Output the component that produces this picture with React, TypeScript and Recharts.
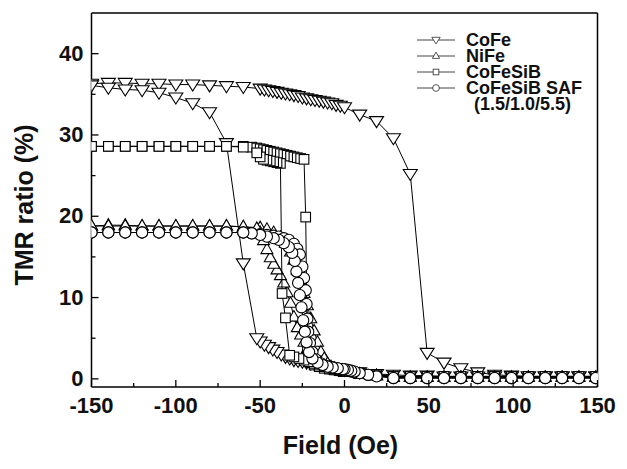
import React from 'react';
import { ScatterChart, Scatter, XAxis, YAxis, ReferenceLine } from 'recharts';

const FONT = '"Liberation Sans", Arial, Helvetica, sans-serif';

// ---- CoFe (inverted triangles) ----
const coFeUpField = [-150,-140,-130,-120,-110,-100,-90,-80,-70,-60,-50,-47.5,-45,-42.5,-40,-37.5,-35,-32.5,-30,-27.5,-25,-22.5,-20,-17.5,-15,-12.5,-10,-7.5,-5,-2.5,0,9,19,29,39,49,59,69,79,89,99,109,119,129,139,149];
const coFeUpTmr = [36.3,36.4,36.4,36.3,36.3,36.2,36.2,36.1,36.0,35.9,35.7,35.6,35.5,35.4,35.3,35.2,35.1,35.0,34.9,34.8,34.6,34.5,34.4,34.3,34.2,34.1,34.0,33.9,33.7,33.6,33.4,32.5,31.7,29.6,25.2,3.2,2.0,1.3,0.8,0.5,0.4,0.3,0.3,0.3,0.3,0.3];
const coFeDownField = [149,139,129,119,109,99,89,79,69,59,49,39,29,19,9,0,-2.5,-5,-7.5,-10,-12.5,-15,-17.5,-20,-22.5,-25,-27.5,-30,-32.5,-35,-37.5,-40,-42.5,-45,-47.5,-50,-52,-60,-70,-80,-90,-100,-110,-120,-130,-140,-150];
const coFeDownTmr = [0.3,0.3,0.3,0.3,0.3,0.3,0.3,0.3,0.3,0.3,0.4,0.4,0.5,0.6,0.8,1.1,1.2,1.3,1.4,1.5,1.6,1.7,1.8,1.9,2.0,2.1,2.2,2.3,2.5,2.7,3.0,3.3,3.6,3.9,4.2,4.6,5.0,14.2,29.0,32.8,33.9,34.6,35.2,35.5,35.6,35.8,36.1];

// ---- NiFe (triangles) ----
const niFeUpField = [-150,-140,-130,-120,-110,-100,-90,-80,-70,-60,-50,-46,-42,-38,-35,-32,-30,-28,-26,-24,-22,-20,-18,-16,-14,-12,-10,-8,-6,-4,-2,0,9,19,29,39,49,59,69,79,89,99,109,119,129,139,149];
const niFeUpTmr = [18.8,18.9,18.9,18.8,18.8,18.8,18.8,18.8,18.8,18.7,18.6,18.4,18.0,17.4,16.7,15.6,14.6,13.4,12.0,10.5,9.0,7.4,5.9,4.5,3.3,2.5,1.9,1.5,1.3,1.1,1.0,0.9,0.6,0.4,0.2,0.2,0.2,0.2,0.2,0.2,0.2,0.2,0.2,0.2,0.2,0.2,0.2];
const niFeDownField = [149,139,129,119,109,99,89,79,69,59,49,39,29,19,9,0,-3,-6,-9,-12,-15,-18,-20,-22,-24,-26,-28,-30,-32,-34,-36,-38,-40,-42,-44,-46,-48,-50,-52,-60,-70,-80,-90,-100,-110,-120,-130,-140,-150];
const niFeDownTmr = [0.2,0.2,0.2,0.2,0.2,0.2,0.2,0.2,0.2,0.2,0.2,0.2,0.2,0.4,0.6,0.8,1.0,1.1,1.3,1.6,2.0,2.5,3.0,3.7,4.5,5.4,6.3,7.6,9.3,10.6,11.8,12.7,13.4,14.1,14.9,15.9,17.0,18.0,18.5,18.7,18.8,18.8,18.8,18.8,18.8,18.8,18.8,18.8,18.8];

// ---- CoFeSiB (squares) ----
const siBUpField = [-150,-140,-130,-120,-110,-100,-90,-80,-70,-60,-55,-52,-50,-48,-46,-44,-42,-40,-38,-36,-34,-32,-30,-28,-26,-24,-23,-22,-20,-18,-15,-12,-9,-6,-3,0,9,19,29,39,49,59,69,79,89,99,109,119,129,139,149];
const siBUpTmr = [28.6,28.6,28.6,28.6,28.6,28.6,28.6,28.6,28.6,28.6,28.5,28.4,28.3,28.2,28.1,28.0,27.9,27.8,27.7,27.6,27.5,27.4,27.3,27.2,27.1,27.0,19.9,3.5,2.0,1.7,1.5,1.3,1.2,1.1,1.0,0.9,0.7,0.5,0.3,0.3,0.3,0.3,0.3,0.3,0.3,0.3,0.3,0.3,0.3,0.3,0.3];
const siBDownField = [149,139,129,119,109,99,89,79,69,59,49,39,29,19,9,0,-3,-6,-9,-12,-15,-18,-21,-24,-27,-30,-32.5,-35,-37,-38,-40,-42,-44,-46,-48,-50,-52,-60,-70,-80,-90,-100,-110,-120,-130,-140,-150];
const siBDownTmr = [0.3,0.3,0.3,0.3,0.3,0.3,0.3,0.3,0.3,0.3,0.3,0.3,0.3,0.5,0.7,1.0,1.1,1.2,1.3,1.5,1.7,1.9,2.1,2.3,2.5,2.7,2.9,7.5,10.5,26.5,26.6,26.7,26.8,26.9,27.0,27.3,27.8,28.5,28.6,28.6,28.6,28.6,28.6,28.6,28.6,28.6,28.6];

// ---- CoFeSiB SAF (circles) ----
const safUpField = [-150,-140,-130,-120,-110,-100,-90,-80,-70,-60,-55,-50,-46,-42,-39,-36,-33,-30,-28,-26.5,-25,-24,-23,-22.5,-22,-21.5,-20.5,-19,-17,-14,-11,-8,-5,-2,0,2,4,6,9,14,19,29,39,49,59,69,79,89,99,109,119,129,139,149];
const safUpTmr = [18.0,18.0,18.0,18.0,18.0,18.0,18.0,18.0,18.0,18.0,17.9,17.8,17.7,17.6,17.5,17.3,17.1,16.6,16.0,15.3,13.8,12.4,10.9,9.2,7.4,5.8,4.4,3.3,2.4,1.9,1.6,1.4,1.3,1.2,1.1,1.0,0.9,0.8,0.7,0.5,0.4,0.1,0.1,0.1,0.1,0.1,0.1,0.1,0.1,0.1,0.1,0.1,0.1,0.1];
const safDownField = [149,139,129,119,109,99,89,79,69,59,49,39,29,19,14,9,6,4,2,0,-1,-4,-7,-10,-13,-16,-19,-21,-22.5,-23.5,-24.5,-25.5,-26.5,-27.5,-28.5,-29.5,-31,-33,-36,-39,-42,-46,-50,-55,-60,-70,-80,-90,-100,-110,-120,-130,-140,-150];
const safDownTmr = [0.1,0.1,0.1,0.1,0.1,0.1,0.1,0.1,0.1,0.1,0.1,0.1,0.1,0.3,0.5,0.7,0.9,1.0,1.1,1.2,1.2,1.3,1.4,1.5,1.7,2.0,2.5,3.3,4.5,5.8,7.2,8.8,10.3,11.8,13.2,14.5,15.5,16.2,16.7,17.1,17.3,17.5,17.7,17.9,18.0,18.0,18.0,18.0,18.0,18.0,18.0,18.0,18.0,18.0];

// ---- axes ----
const xTicks = [-150,-125,-100,-75,-50,-25,0,25,50,75,100,125,150];
const yTicks = [0,5,10,15,20,25,30,35,40];
const seriesNames = ['CoFe', 'NiFe', 'CoFeSiB', 'CoFeSiB SAF'];
const legendSubLabel = '(1.5/1.0/5.5)';

const zip = (f: number[], t: number[]) => {
  const n = Math.min(f.length, t.length);
  const out: { x: number; y: number }[] = [];
  for (let i = 0; i < n; i++) out.push({ x: f[i], y: t[i] });
  return out;
};

const coFeData = [...zip(coFeUpField, coFeUpTmr), ...zip(coFeDownField, coFeDownTmr)];
const niFeData = [...zip(niFeUpField, niFeUpTmr), ...zip(niFeDownField, niFeDownTmr)];
const siBData = [...zip(siBUpField, siBUpTmr), ...zip(siBDownField, siBDownTmr)];
const safData = [...zip(safUpField, safUpTmr), ...zip(safDownField, safDownTmr)];

const SW = 1.1;

const markerFor = (kind: string, cx: number, cy: number, s: number) => {
  if (kind === 'down') {
    const w = 7 * s;
    return <polygon points={`${cx - w},${cy - 4.5 * s} ${cx + w},${cy - 4.5 * s} ${cx},${cy + 6.5 * s}`} fill="#fff" stroke="#000" strokeWidth={SW} />;
  }
  if (kind === 'up') {
    const w = 6 * s;
    return <polygon points={`${cx - w},${cy + 4 * s} ${cx + w},${cy + 4 * s} ${cx},${cy - 6.5 * s}`} fill="#fff" stroke="#000" strokeWidth={SW} />;
  }
  if (kind === 'square') {
    const h = 4.8 * s;
    return <rect x={cx - h} y={cy - h} width={2 * h} height={2 * h} fill="#fff" stroke="#000" strokeWidth={SW} />;
  }
  return <circle cx={cx} cy={cy} r={5.6 * s} fill="#fff" stroke="#000" strokeWidth={SW} />;
};

const kinds = ['down', 'up', 'square', 'circle'];

const makeShape = (kind: string) => (props: any) => {
  const { cx, cy } = props;
  if (cx == null || cy == null) return <g />;
  return markerFor(kind, cx, cy, 1);
};

const XTick = (props: any) => {
  const { x, y, payload } = props;
  const v = payload.value;
  const major = v % 50 === 0;
  return (
    <g>
      <line x1={x} x2={x} y1={y} y2={y - (major ? 7 : 4)} stroke="#000" strokeWidth={1.3} />
      {major && (
        <text x={x} y={y + 26} textAnchor="middle" fontFamily={FONT} fontWeight="bold" fontSize={22} fill="#111">
          {v}
        </text>
      )}
    </g>
  );
};

const YTick = (props: any) => {
  const { x, y, payload } = props;
  const v = payload.value;
  const major = v % 10 === 0;
  return (
    <g>
      <line x1={x} x2={x + (major ? 7 : 4)} y1={y} y2={y} stroke="#000" strokeWidth={1.3} />
      {major && (
        <text x={x - 8} y={y + 7} textAnchor="end" fontFamily={FONT} fontWeight="bold" fontSize={22} fill="#111">
          {v}
        </text>
      )}
    </g>
  );
};

const XTitle = (props: any) => {
  const vb = props.viewBox || {};
  const cx = vb.x + vb.width / 2 - 4;
  return (
    <text x={cx} y={446} textAnchor="middle" fontFamily={FONT} fontWeight="bold" fontSize={25} fill="#111">
      Field (Oe)
    </text>
  );
};

const YTitle = (props: any) => {
  const vb = props.viewBox || {};
  const cy = vb.y + vb.height / 2 + 5;
  const cx = 25;
  return (
    <text x={cx} y={cy} transform={`rotate(-90, ${cx}, ${cy})`} textAnchor="middle" fontFamily={FONT} fontWeight="bold" fontSize={25} fill="#111">
      TMR ratio (%)
    </text>
  );
};

const LegendBox = () => (
  <div style={{ position: 'absolute', left: 409, top: 24, fontFamily: FONT, fontWeight: 'bold', fontSize: 18, color: '#111' }}>
    {seriesNames.map((name, i) => (
      <div key={name} style={{ height: 16, display: 'flex', alignItems: 'center', whiteSpace: 'nowrap' }}>
        <svg width={38} height={16} style={{ display: 'block' }}>
          <line x1={0} x2={38} y1={8} y2={8} stroke="#444" strokeWidth={1} />
          <g transform="translate(19,8) scale(0.6) translate(-19,-8)">{markerFor(kinds[i], 19, 8, 1)}</g>
        </svg>
        <span style={{ marginLeft: 11, lineHeight: '16px' }}>{name}</span>
      </div>
    ))}
    <div style={{ height: 16, lineHeight: '16px', marginLeft: 57, whiteSpace: 'nowrap' }}>{legendSubLabel}</div>
  </div>
);

export default function App() {
  const W = 619;
  const H = 461;
  return (
    <div style={{ position: 'relative', width: W, height: H }}>
      <ScatterChart width={W} height={H} margin={{ top: 5, right: 29.5, bottom: 12, left: 13.5 }}>
        <XAxis
          type="number"
          dataKey="x"
          domain={[-150, 150]}
          ticks={xTicks}
          interval={0}
          allowDataOverflow
          tick={<XTick />}
          tickLine={false}
          tickSize={0}
          tickMargin={0}
          height={70}
          axisLine={{ stroke: '#000', strokeWidth: 1.5 }}
          label={<XTitle />}
        />
        <YAxis
          type="number"
          dataKey="y"
          domain={[-1, 45]}
          ticks={yTicks}
          interval={0}
          allowDataOverflow
          tick={<YTick />}
          tickLine={false}
          tickSize={0}
          tickMargin={0}
          width={70}
          axisLine={{ stroke: '#000', strokeWidth: 1.5 }}
          label={<YTitle />}
        />
        <ReferenceLine y={45} stroke="#000" strokeWidth={1.5} ifOverflow="visible" />
        <ReferenceLine x={150} stroke="#000" strokeWidth={1.5} ifOverflow="visible" />
        <Scatter name="CoFe" data={coFeData} line={{ stroke: '#000', strokeWidth: 1 }} lineType="joint" shape={makeShape('down')} isAnimationActive={false} />
        <Scatter name="NiFe" data={niFeData} line={{ stroke: '#000', strokeWidth: 1 }} lineType="joint" shape={makeShape('up')} isAnimationActive={false} />
        <Scatter name="CoFeSiB" data={siBData} line={{ stroke: '#000', strokeWidth: 1 }} lineType="joint" shape={makeShape('square')} isAnimationActive={false} />
        <Scatter name="CoFeSiB SAF" data={safData} line={{ stroke: '#000', strokeWidth: 1 }} lineType="joint" shape={makeShape('circle')} isAnimationActive={false} />
      </ScatterChart>
      <LegendBox />
    </div>
  );
}
